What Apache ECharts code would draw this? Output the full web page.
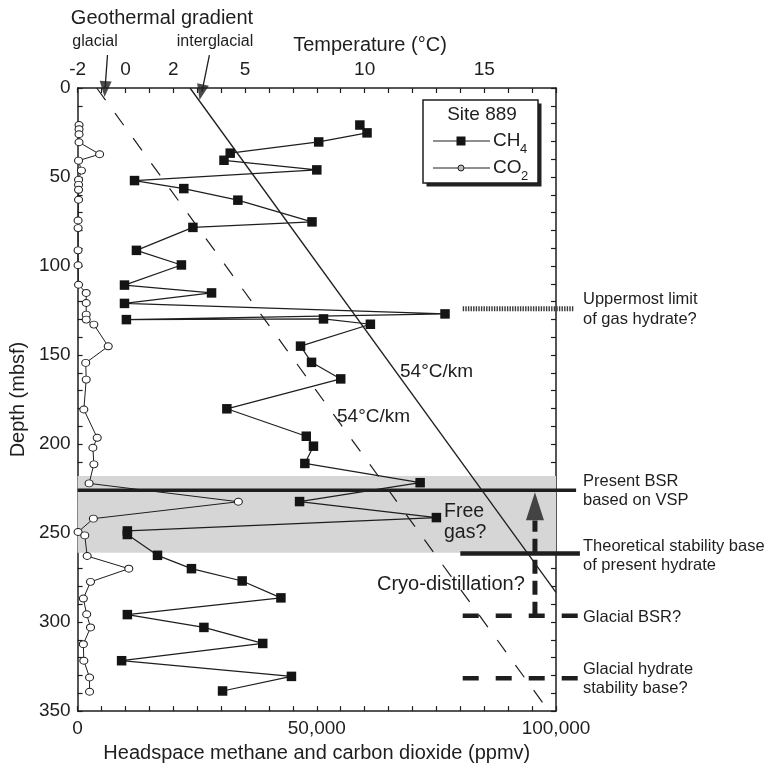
<!DOCTYPE html>
<html>
<head>
<meta charset="utf-8">
<script src="https://cdn.jsdelivr.net/npm/echarts@6/dist/echarts.min.js"></script>
<style>
  html, body { margin: 0; padding: 0; background: #fff; }
  #chart { width: 783px; height: 768px; }
</style>
</head>
<body>
<div id="chart"></div>
<script>
// Site 889: headspace CH4 and CO2 versus depth, with geothermal gradients
const ch4Depth = [20.8, 25.2, 30.3, 36.6, 40.6, 46.0, 52.0, 56.5, 63.0, 75.2, 78.3, 91.2, 99.4, 110.7, 115.1, 121.0, 126.9, 130.1, 129.7, 132.7, 145.0, 154.1, 163.4, 180.2, 195.6, 201.2, 210.9, 221.7, 232.3, 241.3, 248.8, 250.8, 262.5, 270.0, 276.9, 286.4, 295.8, 303.0, 312.0, 321.7, 330.5, 338.7];
const ch4Ppmv = [59000, 60500, 50400, 31900, 30600, 50000, 11900, 22200, 33500, 49000, 24100, 12300, 21700, 9800, 28000, 9800, 76800, 10200, 51400, 61200, 46600, 48900, 55000, 31200, 47800, 49300, 47500, 71600, 46400, 75000, 10400, 10400, 16700, 23800, 34400, 42500, 10400, 26400, 38700, 9200, 44700, 30300];

const co2Depth = [20.8, 23.2, 26.0, 30.5, 37.2, 40.8, 46.4, 51.6, 54.4, 57.2, 62.8, 74.4, 78.7, 91.2, 99.6, 110.5, 115.1, 120.8, 127.3, 130.1, 132.9, 145.1, 154.4, 163.8, 180.6, 196.5, 202.1, 211.4, 222.1, 232.4, 241.9, 249.4, 251.3, 262.9, 270.0, 277.4, 286.8, 295.6, 303.0, 312.4, 321.7, 331.1, 339.1];
const co2Ppmv = [300, 300, 300, 300, 4600, 200, 800, 200, 200, 200, 200, 100, 100, 100, 100, 200, 1800, 1800, 1800, 1800, 3400, 6400, 1700, 1800, 1300, 4100, 3200, 3400, 2400, 33600, 3300, 100, 1500, 2000, 10700, 2700, 1200, 1900, 2700, 1200, 1300, 2500, 2500];

// tick labels
const depthLabels = [0, 50, 100, 150, 200, 250, 300, 350];
const ppmvLabels = [0, 50000, 100000];
const tempLabels = [-2, 0, 2, 5, 10, 15];

// geothermal gradient lines (temperature °C, depth mbsf), 54 °C/km
const glacialGradient = [[-1.2, 0], [17.7, 350]];
const interglacialGradient = [[2.7, 0], [18, 283.3]];

// free-gas zone (depth range, mbsf)
const freeGasZone = [218, 261];

// interpreted horizons: [depth, x start, x end] in ppmv units
const uppermostHydrate = [124, 80500, 103800];
const presentBSR = [226, 0, 104200];
const theoreticalBase = [261.5, 80000, 105000];
const glacialBSR = [296.5, 80500, 104600];
const glacialBase = [331.5, 80500, 104600];

// cryo-distillation arrow: x, from depth, to depth, head centre depth
const cryoArrow = [95600, 296.5, 243, 235];

// arrows from the gradient captions to the temperature axis: [T start, d start, T end, d end, T head, d head]
const glacialPointer = [-0.75, -18.5, -0.85, 0, -0.85, 0.6];
const interglacialPointer = [3.51, -18.5, 3.2, 2, 3.17, 2.4];

const FONT = "'Liberation Sans', Arial, Helvetica, sans-serif";
const INK = '#1e1e1e';

const chart = echarts.init(document.getElementById('chart'), null, { renderer: 'canvas' });

const axisCommon = {
  axisLine: { onZero: false, lineStyle: { color: INK, width: 1.5 } },
  axisTick: { inside: true, length: 5, lineStyle: { color: INK, width: 1.2 } },
  splitLine: { show: false },
  axisLabel: { color: INK, fontFamily: FONT, fontSize: 19 }
};

const option = {
  animation: false,
  backgroundColor: '#fff',
  grid: { left: 77, right: 227, top: 88, bottom: 56 },
  xAxis: [
    Object.assign({}, axisCommon, {
      type: 'value', position: 'bottom', min: 0, max: 100000, interval: 5000,
      name: 'Headspace methane and carbon dioxide (ppmv)',
      nameLocation: 'middle', nameGap: 30,
      nameTextStyle: { color: INK, fontFamily: FONT, fontSize: 20 },
      axisLabel: Object.assign({}, axisCommon.axisLabel, {
        margin: 8,
        formatter: v => ppmvLabels.includes(v) ? v.toLocaleString('en-US') : ''
      })
    }),
    Object.assign({}, axisCommon, {
      type: 'value', position: 'top', min: -2, max: 18, interval: 1,
      axisLabel: Object.assign({}, axisCommon.axisLabel, {
        margin: 9,
        formatter: v => tempLabels.includes(v) ? String(v) : ''
      })
    })
  ],
  yAxis: [
    Object.assign({}, axisCommon, {
      type: 'value', position: 'left', inverse: true, min: 0, max: 350, interval: 10,
      name: 'Depth (mbsf)', nameLocation: 'middle', nameGap: 45,
      nameTextStyle: { color: INK, fontFamily: FONT, fontSize: 20 },
      axisLabel: Object.assign({}, axisCommon.axisLabel, {
        margin: 7,
        formatter: v => depthLabels.includes(v) ? String(v) : ''
      })
    }),
    Object.assign({}, axisCommon, {
      type: 'value', position: 'right', inverse: true, min: 0, max: 350, interval: 10,
      axisLabel: { show: false }
    })
  ],
  series: [
    // free gas zone shading
    {
      type: 'line', xAxisIndex: 0, yAxisIndex: 0, data: [], silent: true, z: 1,
      markArea: {
        silent: true,
        itemStyle: { color: '#d6d6d6' },
        data: [[{ yAxis: freeGasZone[0] }, { yAxis: freeGasZone[1] }]]
      }
    },
    // glacial gradient (dashed)
    {
      type: 'line', xAxisIndex: 1, yAxisIndex: 0, symbol: 'none', silent: true, z: 3,
      data: glacialGradient,
      lineStyle: { color: INK, width: 1.2, type: [15, 16] }
    },
    // interglacial gradient (solid)
    {
      type: 'line', xAxisIndex: 1, yAxisIndex: 0, symbol: 'none', silent: true, z: 3,
      data: interglacialGradient,
      lineStyle: { color: INK, width: 1.3 }
    },
    // CO2
    {
      name: 'CO2', type: 'line', xAxisIndex: 0, yAxisIndex: 0, z: 5,
      data: co2Depth.map((d, i) => [co2Ppmv[i], d]),
      symbol: 'circle', symbolSize: [8, 7], showAllSymbol: true,
      lineStyle: { color: INK, width: 1 },
      itemStyle: { color: '#fff', borderColor: INK, borderWidth: 1 }
    },
    // CH4
    {
      name: 'CH4', type: 'line', xAxisIndex: 0, yAxisIndex: 0, z: 6,
      data: ch4Depth.map((d, i) => [ch4Ppmv[i], d]),
      symbol: 'rect', symbolSize: 9.5, showAllSymbol: true,
      lineStyle: { color: INK, width: 1.2 },
      itemStyle: { color: '#141414' }
    },
    // cryo-distillation arrow
    {
      type: 'line', xAxisIndex: 0, yAxisIndex: 0, symbol: 'none', clip: false, silent: true, z: 7,
      data: [[cryoArrow[0], cryoArrow[1]], [cryoArrow[0], cryoArrow[2]]],
      lineStyle: { color: INK, width: 5, type: [14, 7] }
    },
    {
      type: 'scatter', xAxisIndex: 0, yAxisIndex: 0, clip: false, silent: true, z: 7,
      symbol: 'triangle', symbolSize: [18, 28],
      data: [[cryoArrow[0], cryoArrow[3]]],
      itemStyle: { color: INK }
    },
    // caption pointers on the temperature axis
    {
      type: 'line', xAxisIndex: 1, yAxisIndex: 0, symbol: 'none', clip: false, silent: true, z: 7,
      data: [[glacialPointer[0], glacialPointer[1]], [glacialPointer[2], glacialPointer[3]]],
      lineStyle: { color: INK, width: 1.3 }
    },
    {
      type: 'line', xAxisIndex: 1, yAxisIndex: 0, symbol: 'none', clip: false, silent: true, z: 7,
      data: [[interglacialPointer[0], interglacialPointer[1]], [interglacialPointer[2], interglacialPointer[3]]],
      lineStyle: { color: INK, width: 1.3 }
    },
    {
      type: 'scatter', xAxisIndex: 1, yAxisIndex: 0, clip: false, silent: true, z: 7,
      symbol: 'triangle', symbolSize: [12, 16], symbolRotate: 176,
      data: [[glacialPointer[4], glacialPointer[5]]],
      itemStyle: { color: INK }
    },
    {
      type: 'scatter', xAxisIndex: 1, yAxisIndex: 0, clip: false, silent: true, z: 7,
      symbol: 'triangle', symbolSize: [12, 16], symbolRotate: 167.5,
      data: [[interglacialPointer[4], interglacialPointer[5]]],
      itemStyle: { color: INK }
    }
  ]
};

chart.setOption(option);

// Horizon lines run past the right-hand axis into the caption column,
// so they are placed as graphics at positions taken from the axes.
function horizon(h, style) {
  const p1 = chart.convertToPixel({ xAxisIndex: 0, yAxisIndex: 0 }, [h[1], h[0]]);
  const p2 = chart.convertToPixel({ xAxisIndex: 0, yAxisIndex: 0 }, [h[2], h[0]]);
  return {
    type: 'line', z: 40, silent: true,
    shape: { x1: p1[0], y1: p1[1], x2: p2[0], y2: p2[1] },
    style: Object.assign({ stroke: INK, lineWidth: 4 }, style)
  };
}

const text = (x, y, str, size, extra) => ({
  type: 'text', x, y, z: 50, silent: true,
  style: Object.assign({ text: str, font: `${size}px ${FONT}`, fill: INK, verticalAlign: 'middle' }, extra || {})
});

chart.setOption({
  graphic: [
    horizon(uppermostHydrate, { lineWidth: 5, stroke: '#3a3a3a', lineDash: [1.4, 1.2] }),
    horizon(presentBSR, { lineWidth: 3.5 }),
    horizon(theoreticalBase, { lineWidth: 4.5 }),
    horizon(glacialBSR, { lineWidth: 4.5, lineDash: [16, 17] }),
    horizon(glacialBase, { lineWidth: 4.5, lineDash: [16, 17] }),

    text(162, 18, 'Geothermal gradient', 20, { align: 'center' }),
    text(95, 42, 'glacial', 16, { align: 'center' }),
    text(215, 42, 'interglacial', 16, { align: 'center' }),
    text(370, 45, 'Temperature (°C)', 20, { align: 'center' }),
    text(400, 372, '54°C/km', 19),
    text(337, 417, '54°C/km', 19),
    text(444, 522, 'Free\ngas?', 19.5, { lineHeight: 21 }),
    text(377, 584, 'Cryo-distillation?', 20),
    text(583, 309, 'Uppermost limit\nof gas hydrate?', 16.5, { lineHeight: 20 }),
    text(583, 490.5, 'Present BSR\nbased on VSP', 16.5, { lineHeight: 19 }),
    text(583, 555.5, 'Theoretical stability base\nof present hydrate', 16.5, { lineHeight: 19 }),
    text(583, 617, 'Glacial BSR?', 16.5),
    text(583, 679, 'Glacial hydrate\nstability base?', 16.5, { lineHeight: 19 }),

    // legend box
    {
      type: 'group', x: 423, y: 100, z: 60,
      children: [
        { type: 'rect', shape: { x: 3.5, y: 3.5, width: 115, height: 83 }, style: { fill: '#222' } },
        { type: 'rect', shape: { x: 0, y: 0, width: 115, height: 83 }, style: { fill: '#fff', stroke: INK, lineWidth: 1.5 } },
        { type: 'text', x: 59, y: 15, style: { text: 'Site 889', font: `19px ${FONT}`, fill: INK, align: 'center', verticalAlign: 'middle' } },
        { type: 'line', shape: { x1: 10, y1: 41, x2: 67, y2: 41 }, style: { stroke: INK, lineWidth: 1.2 } },
        { type: 'rect', shape: { x: 33.5, y: 36.5, width: 9, height: 9 }, style: { fill: '#141414' } },
        { type: 'text', x: 70, y: 41, style: { text: 'CH', font: `19px ${FONT}`, fill: INK, verticalAlign: 'middle' } },
        { type: 'text', x: 97, y: 49, style: { text: '4', font: `13px ${FONT}`, fill: INK, verticalAlign: 'middle' } },
        { type: 'line', shape: { x1: 10, y1: 68, x2: 67, y2: 68 }, style: { stroke: INK, lineWidth: 1 } },
        { type: 'circle', shape: { cx: 38, cy: 68, r: 3 }, style: { fill: '#bbb', stroke: INK, lineWidth: 1 } },
        { type: 'text', x: 70, y: 68, style: { text: 'CO', font: `19px ${FONT}`, fill: INK, verticalAlign: 'middle' } },
        { type: 'text', x: 98, y: 76, style: { text: '2', font: `13px ${FONT}`, fill: INK, verticalAlign: 'middle' } }
      ]
    }
  ]
});
</script>
</body>
</html>
